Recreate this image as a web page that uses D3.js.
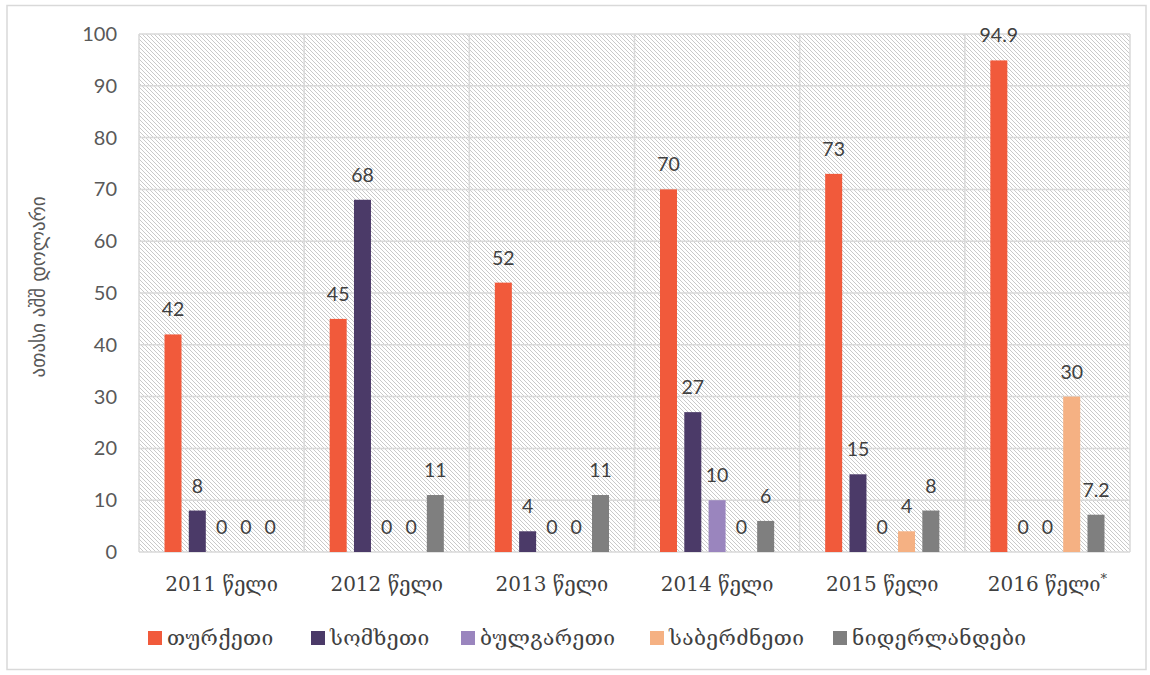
<!DOCTYPE html>
<html><head><meta charset="utf-8">
<script src="https://cdn.jsdelivr.net/npm/d3@7"></script>
<style>body{margin:0;background:#fff}</style>
</head><body><svg id="c" width="1150" height="675"></svg>
<script>
const categories = ["2011 წელი","2012 წელი","2013 წელი","2014 წელი","2015 წელი","2016 წელი"];
const seriesNames = ["თურქეთი","სომხეთი","ბულგარეთი","საბერძნეთი","ნიდერლანდები"];
const turkey = [42,45,52,70,73,94.9];
const armenia = [8,68,4,27,15,0];
const bulgaria = [0,0,0,10,0,0];
const greece = [0,0,0,0,4,30];
const netherlands = [0,11,11,6,8,7.2];
const yTicks = [0,10,20,30,40,50,60,70,80,90,100];
const colors = ["#F15A3B","#4B3A68","#9A85BE","#F5B183","#7F7F7F"];
const seriesValues = [turkey, armenia, bulgaria, greece, netherlands];

const svg = d3.select("#c");
const L=139, R=1130, T=34, B=552;
svg.append("rect").attr("x",7).attr("y",5.5).attr("width",1139).attr("height",664).attr("fill","#fff").attr("stroke","#d9d9d9").attr("stroke-width",1.5);

const defs = svg.append("defs");
const pat = defs.append("pattern").attr("id","hatch").attr("patternUnits","userSpaceOnUse").attr("width",4).attr("height",4);
pat.append("rect").attr("width",4).attr("height",4).attr("fill","#fff");
pat.append("path").attr("d","M-1,-1 L5,5 M-1,3 L1,5 M3,-1 L5,1").attr("stroke","#c9c9c9").attr("stroke-width",1);

const x0 = d3.scaleBand().domain(categories).range([L,R]);
const x1 = d3.scaleBand().domain(seriesNames).range([0,x0.bandwidth()]).paddingInner(0.3).paddingOuter(1.05);
const y = d3.scaleLinear().domain([0,100]).range([B,T]);

svg.append("rect").attr("x",L).attr("y",T).attr("width",R-L).attr("height",B-T).attr("fill","url(#hatch)");
svg.append("g").selectAll("line").data(yTicks).join("line")
  .attr("x1",L).attr("x2",R).attr("y1",d=>y(d)).attr("y2",d=>y(d))
  .attr("stroke","#d9d9d9").attr("stroke-width",1.5);
const bounds = categories.map(c=>x0(c)).concat([R]);
svg.append("g").selectAll("line").data(bounds).join("line")
  .attr("x1",d=>d).attr("x2",d=>d).attr("y1",T).attr("y2",B)
  .attr("stroke","#d9d9d9").attr("stroke-width",1.5);

const yAxis = d3.axisLeft(y).tickValues(yTicks).tickSize(0).tickPadding(0);
const ga = svg.append("g").attr("transform",`translate(${L-22},0)`).call(yAxis);
ga.select(".domain").remove();
ga.selectAll("text").attr("font-family","Lato, 'Liberation Sans', sans-serif").attr("font-size",20).attr("fill","#595959");

svg.append("text").attr("transform",`translate(45,${(T+B)/2-6}) rotate(-90)`).attr("text-anchor","middle")
  .attr("font-family","'DejaVu Sans', sans-serif").attr("font-size",19).attr("fill","#595959").text("ათასი აშშ დოლარი");

const fmt = v => String(v);
seriesNames.forEach((s,si)=>{
  const g = svg.append("g");
  const data = categories.map((c,i)=>({c, v: seriesValues[si][i]}));
  g.selectAll("rect").data(data).join("rect")
    .attr("x",d=>x0(d.c)+x1(s)).attr("width",x1.bandwidth())
    .attr("y",d=>y(d.v)).attr("height",d=>B-y(d.v)).attr("fill",colors[si]);
  g.selectAll("text").data(data).join("text")
    .attr("x",d=>x0(d.c)+x1(s)+x1.bandwidth()/2).attr("y",d=>y(d.v)-18)
    .attr("text-anchor","middle").attr("font-family","Lato, 'Liberation Sans', sans-serif")
    .attr("font-size",19.5).attr("fill","#404040").text(d=>fmt(d.v));
});

const cl = svg.append("g").selectAll("text").data(categories).join("text")
  .attr("x",d=>x0(d)+x0.bandwidth()/2).attr("y",591).attr("text-anchor","middle")
  .attr("font-family","'DejaVu Serif', serif").attr("font-size",20).attr("fill","#404040");
cl.text(d=>d);
cl.filter((d,i)=>i===categories.length-1).append("tspan").attr("dy",-8).attr("font-size",13).text("*");

const legX = [148,311,461,650,833];
const lg = svg.append("g").selectAll("g").data(seriesNames).join("g").attr("transform",(d,i)=>`translate(${legX[i]},631)`);
lg.append("rect").attr("width",14).attr("height",14).attr("fill",(d,i)=>colors[i]);
lg.append("text").attr("x",19).attr("y",14).attr("font-family","'DejaVu Serif', serif").attr("font-size",21).attr("letter-spacing",0.4).attr("fill","#404040").text(d=>d);
</script></body></html>
